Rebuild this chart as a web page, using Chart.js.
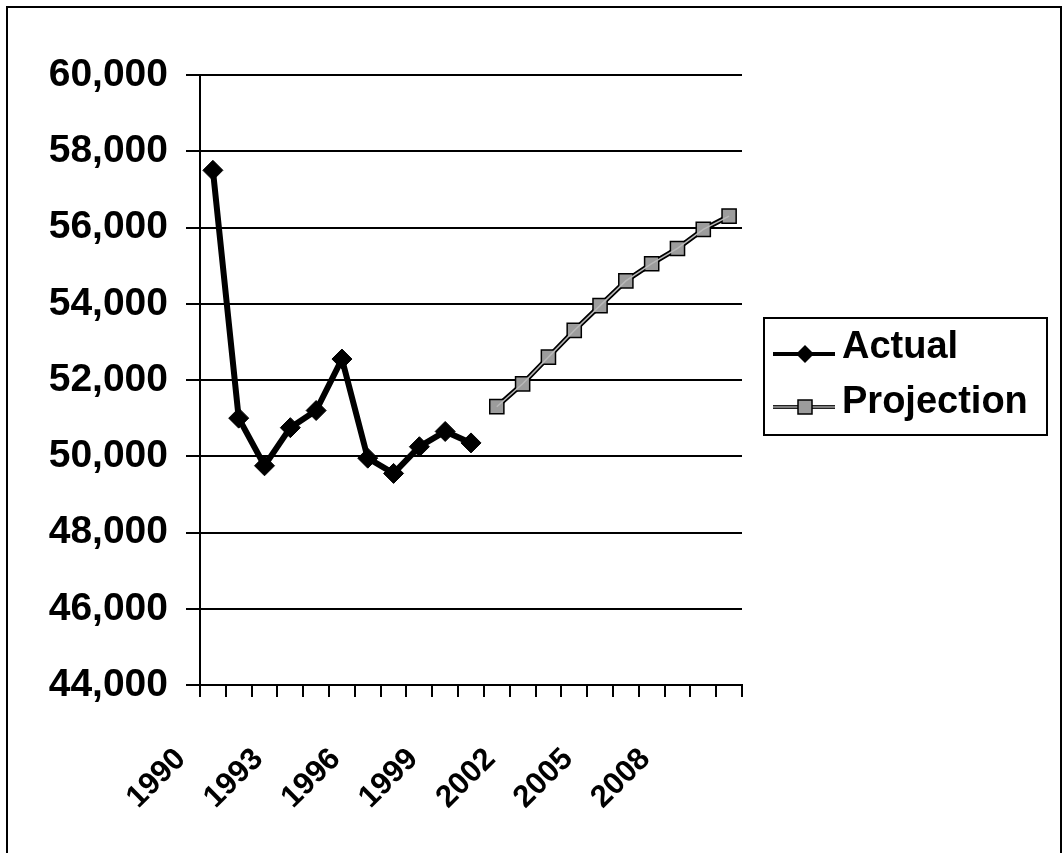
<!DOCTYPE html>
<html>
<head>
<meta charset="utf-8">
<script src="https://cdn.jsdelivr.net/npm/chart.js@4"></script>
<style>
  html, body { margin: 0; padding: 0; background: #fff; }
  #wrap { position: relative; width: 1064px; height: 853px; overflow: hidden; }
  #frame { position: absolute; left: 6px; top: 6px; width: 1056px; height: 900px; border: 2px solid #000; box-sizing: border-box; }
  canvas { position: absolute; left: 0; top: 0; }
</style>
</head>
<body>
<div id="wrap">
  <div id="frame"></div>
  <canvas id="c" width="1064" height="853"></canvas>
</div>
<script>
// Years on the category axis
const years = ['1990','1991','1992','1993','1994','1995','1996','1997','1998','1999','2000',
               '2001','2002','2003','2004','2005','2006','2007','2008','2009','2010'];

// Recorded values, 1990-2000
const actual = [57500, 51000, 49750, 50750, 51200, 52550, 49950, 49550, 50250, 50650, 50350,
                null, null, null, null, null, null, null, null, null, null];

// Projected values, 2001-2010
const projection = [null, null, null, null, null, null, null, null, null, null, null,
                    51300, 51900, 52600, 53300, 53950, 54600, 55050, 55450, 55950, 56300];

// Value axis range and step
const yMin = 44000;
const yMax = 60000;
const yStep = 2000;

// Which year labels get printed (every third year)
const labelEvery = 3;

const seriesNames = ['Actual', 'Projection'];

const FONT = '"Liberation Sans", Arial, Helvetica, sans-serif';
const GREY = '#9c9c9c';

// Legend box drawn on the canvas to the right of the plot
const legendPlugin = {
  id: 'boxLegend',
  afterDraw(chart) {
    const ctx = chart.ctx;
    ctx.save();
    // box
    ctx.strokeStyle = '#000';
    ctx.lineWidth = 2;
    ctx.strokeRect(764, 318, 283, 117);

    // Actual entry
    ctx.beginPath();
    ctx.moveTo(773, 354); ctx.lineTo(835, 354);
    ctx.lineWidth = 4; ctx.strokeStyle = '#000'; ctx.stroke();
    ctx.beginPath();
    ctx.moveTo(805, 345); ctx.lineTo(814, 354); ctx.lineTo(805, 363); ctx.lineTo(796, 354); ctx.closePath();
    ctx.fillStyle = '#000'; ctx.fill();

    // Projection entry
    ctx.beginPath();
    ctx.moveTo(773, 407); ctx.lineTo(835, 407);
    ctx.lineWidth = 4; ctx.strokeStyle = '#222'; ctx.stroke();
    ctx.beginPath();
    ctx.moveTo(773, 407); ctx.lineTo(835, 407);
    ctx.lineWidth = 1.5; ctx.strokeStyle = GREY; ctx.stroke();
    ctx.fillStyle = GREY;
    ctx.fillRect(798, 400, 14, 14);
    ctx.lineWidth = 1.5; ctx.strokeStyle = '#000';
    ctx.strokeRect(798, 400, 14, 14);

    // labels
    ctx.fillStyle = '#000';
    ctx.font = 'bold 38px ' + FONT;
    ctx.textAlign = 'left';
    ctx.textBaseline = 'alphabetic';
    ctx.fillText(seriesNames[0], 842, 358);
    ctx.fillText(seriesNames[1], 842, 413);
    ctx.restore();
  }
};

new Chart(document.getElementById('c'), {
  type: 'line',
  data: {
    labels: years,
    datasets: [
      {
        label: seriesNames[0],
        data: actual,
        borderColor: '#000',
        backgroundColor: '#000',
        borderWidth: 6,
        pointStyle: 'rectRot',
        pointRadius: 10,
        pointBorderWidth: 1,
        pointBorderColor: '#000',
        pointBackgroundColor: '#000',
        spanGaps: false,
        tension: 0,
        order: 1
      },
      {
        // light centre stroke of the projection line
        label: seriesNames[1] + ' core',
        data: projection,
        borderColor: '#b8b8b8',
        borderWidth: 1.5,
        pointRadius: 0,
        tension: 0,
        order: 2
      },
      {
        label: seriesNames[1],
        data: projection,
        borderColor: '#000',
        backgroundColor: GREY,
        borderWidth: 5,
        pointStyle: 'rect',
        pointRadius: 10,
        pointBorderWidth: 1.5,
        pointBorderColor: '#000',
        pointBackgroundColor: GREY,
        tension: 0,
        order: 3
      }
    ]
  },
  plugins: [legendPlugin],
  options: {
    responsive: false,
    animation: false,
    devicePixelRatio: 1,
    layout: { padding: { left: 0, right: 322, top: 75, bottom: 0 } },
    plugins: {
      legend: { display: false },
      tooltip: { enabled: false }
    },
    scales: {
      x: {
        type: 'category',
        offset: true,
        grid: {
          offset: true,
          drawOnChartArea: false,
          drawTicks: true,
          tickLength: 12,
          color: '#000',
          lineWidth: 2
        },
        border: { display: true, color: '#000', width: 2 },
        ticks: {
          autoSkip: false,
          maxRotation: 45,
          minRotation: 45,
          padding: 44,
          labelOffset: -32,
          color: '#000',
          font: { family: FONT, size: 31, weight: 'bold' },
          callback: function(value, index) {
            return index % labelEvery === 0 ? this.getLabelForValue(value) : '';
          }
        },
        afterFit(scale) { scale.height = 853 - 685; }
      },
      y: {
        min: yMin,
        max: yMax,
        grid: {
          color: '#000',
          lineWidth: 2,
          drawTicks: true,
          tickLength: 14
        },
        border: { display: true, color: '#000', width: 2 },
        ticks: {
          stepSize: yStep,
          padding: 18,
          color: '#000',
          font: { family: FONT, size: 39, weight: 'bold' },
          callback: (v) => v.toLocaleString('en-US')
        },
        afterFit(scale) { scale.width = 200; }
      }
    }
  }
});
</script>
</body>
</html>
